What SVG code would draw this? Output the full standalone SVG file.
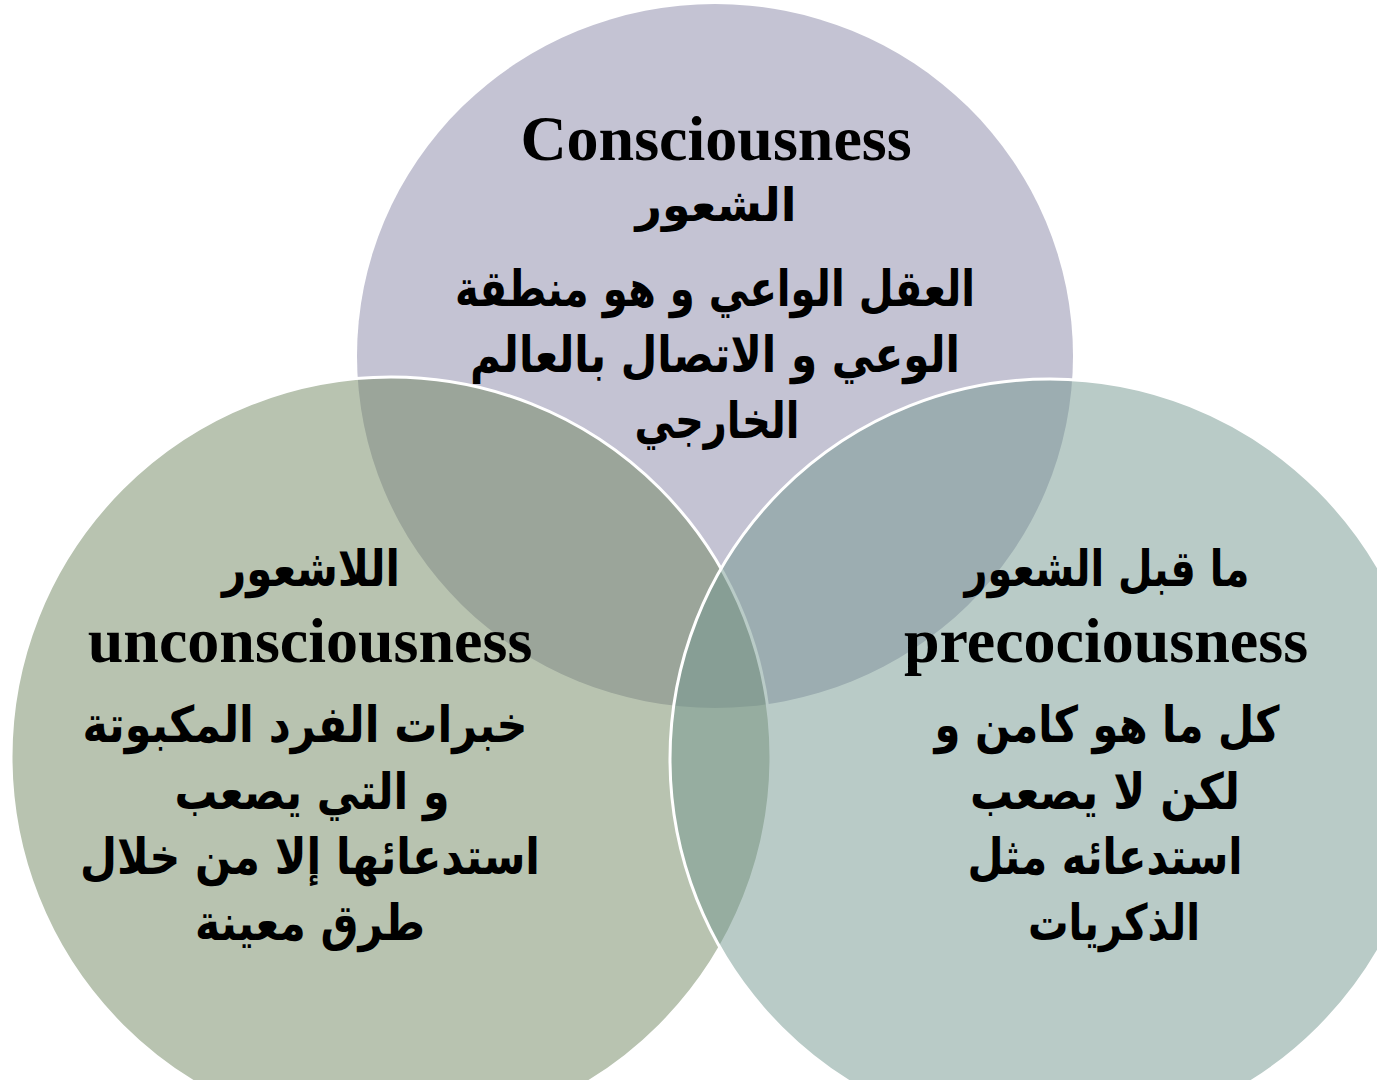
<svg xmlns="http://www.w3.org/2000/svg" width="1377" height="1080" viewBox="0 0 1377 1080">
<style>
.en{font-family:"Liberation Serif","Times New Roman",serif;font-weight:bold;font-size:64px;fill:#000;text-anchor:middle}
.ar{font-family:"DejaVu Sans","Noto Sans",sans-serif;font-weight:bold;font-size:50px;fill:#000;text-anchor:middle}
</style>
<rect width="1377" height="1080" fill="#ffffff"/>
<g id="node-conscious">
<ellipse cx="715" cy="356" rx="358" ry="352" fill="#c4c3d3"/>
</g>
<g id="node-unconscious">
<circle cx="391" cy="757" r="380" fill="#718761" fill-opacity="0.5" stroke="#ffffff" stroke-width="3"/>
</g>
<g id="node-preconscious">
<circle cx="1050" cy="759" r="380" fill="#73978f" fill-opacity="0.5" stroke="#ffffff" stroke-width="3"/>
</g>
<g id="connectors"></g>
<g id="labels-conscious">
<text class="en" x="716" y="160">Consciousness</text>
<text class="ar" x="716" y="221" direction="rtl" style="font-size:46px" textLength="161" lengthAdjust="spacingAndGlyphs">الشعور</text>
<text class="ar" x="715" y="306" direction="rtl" textLength="520" lengthAdjust="spacingAndGlyphs">العقل الواعي و هو منطقة</text>
<text class="ar" x="715" y="372" direction="rtl" textLength="490" lengthAdjust="spacingAndGlyphs">الوعي و الاتصال بالعالم</text>
<text class="ar" x="717" y="438" direction="rtl" textLength="165" lengthAdjust="spacingAndGlyphs">الخارجي</text>
</g>
<g id="labels-unconscious">
<text class="ar" x="311" y="586" direction="rtl" textLength="178" lengthAdjust="spacingAndGlyphs">اللاشعور</text>
<text class="en" x="310" y="662">unconsciousness</text>
<text class="ar" x="305" y="742" direction="rtl" textLength="445" lengthAdjust="spacingAndGlyphs">خبرات الفرد المكبوتة</text>
<text class="ar" x="312" y="809" direction="rtl" textLength="275" lengthAdjust="spacingAndGlyphs">و التي يصعب</text>
<text class="ar" x="310" y="874" direction="rtl" textLength="460" lengthAdjust="spacingAndGlyphs">استدعائها إلا من خلال</text>
<text class="ar" x="310" y="940" direction="rtl" textLength="230" lengthAdjust="spacingAndGlyphs">طرق معينة</text>
</g>
<g id="labels-preconscious">
<text class="ar" x="1107" y="586" direction="rtl" textLength="285" lengthAdjust="spacingAndGlyphs">ما قبل الشعور</text>
<text class="en" x="1106" y="662">precociousness</text>
<text class="ar" x="1107" y="742" direction="rtl" textLength="345" lengthAdjust="spacingAndGlyphs">كل ما هو كامن و</text>
<text class="ar" x="1105" y="809" direction="rtl" textLength="270" lengthAdjust="spacingAndGlyphs">لكن لا يصعب</text>
<text class="ar" x="1105" y="874" direction="rtl" textLength="275" lengthAdjust="spacingAndGlyphs">استدعائه مثل</text>
<text class="ar" x="1114" y="940" direction="rtl" textLength="172" lengthAdjust="spacingAndGlyphs">الذكريات</text>
</g>
</svg>
